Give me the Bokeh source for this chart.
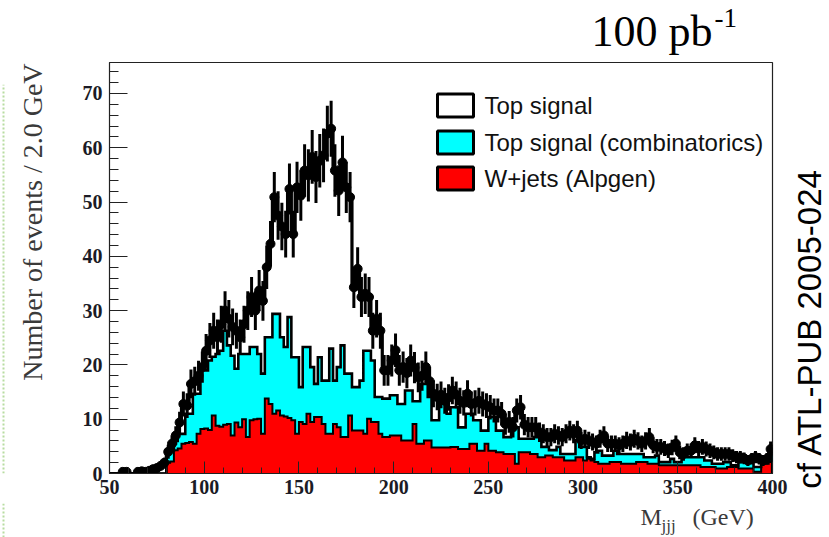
import numpy as np
from math import pi
from bokeh.plotting import figure
from bokeh.models import FixedTicker
from bokeh.layouts import row, column
from bokeh.core.properties import value
from bokeh.embed import file_html
from bokeh.resources import INLINE

# ---------------- data (2 GeV bins from 50 to 400 GeV) ----------------
bin_start = 50.0
bin_width = 2.0

# W+jets (Alpgen) per bin
wjets = [
    0, 0, 0, 0, 0, 0, 0, 0, 0, 0,
    0, 0, 0, 0, 0, 2.0, 2.2, 4.3, 4.6, 5.5,
    5.6, 5.8, 5.5, 7.3, 8.2, 8.3, 8.0, 10.7, 8.8, 8.6,
    9.0, 9.1, 7.0, 9.4, 8.5, 10.0, 6.7, 9.8, 10.0, 10.1,
    7.3, 13.8, 12.8, 11.0, 11.6, 10.7, 10.5, 10.2, 9.8, 7.3,
    9.5, 9.1, 11.0, 9.5, 10.4, 10.4, 9.1, 7.3, 7.3, 9.1,
    8.5, 6.7, 6.7, 10.7, 7.9, 7.9, 7.9, 7.3, 10.1, 9.5,
    9.5, 7.3, 6.7, 6.7, 7.0, 7.0, 7.0, 6.1, 6.1, 6.1,
    9.1, 5.5, 5.5, 6.1, 6.1, 4.8, 4.8, 4.8, 4.8, 4.8,
    4.9, 4.9, 4.5, 4.5, 4.5, 5.5, 5.5, 4.2, 4.2, 5.5,
    4.2, 4.2, 3.9, 3.9, 3.6, 3.6, 3.6, 1.8, 3.9, 3.9,
    3.9, 3.6, 3.6, 3.0, 3.0, 3.3, 3.3, 3.0, 3.0, 3.0,
    2.4, 2.4, 2.4, 3.0, 3.0, 2.4, 2.7, 2.4, 2.1, 1.8,
    1.8, 1.8, 2.1, 2.1, 2.1, 1.8, 1.8, 1.8, 1.8, 2.1,
    2.1, 2.1, 1.8, 1.8, 1.8, 1.5, 1.5, 1.5, 1.5, 1.5,
    1.5, 1.5, 1.5, 1.5, 1.5, 1.5, 1.2, 1.2, 1.2, 1.2,
    0.9, 0.9, 0.9, 1.2, 1.2, 1.2, 0.9, 0.9, 0.9, 0.9,
    0.3, 0.3, 1.8, 1.8, 2.1,
]

# Top signal (combinatorics) per bin
combinatorics = [
    0, 0, 0, 0, 0, 0, 0, 0, 0, 0,
    0, 0, 0, 0, 0, 1.9, 2.0, 1.7, 2.7, 1.8,
    5.4, 5.2, 9.2, 7.4, 10.8, 10.7, 12.8, 10.8, 13.2, 14.0,
    17.3, 14.5, 14.7, 9.9, 13.5, 12.0, 15.3, 13.5, 13.3, 11.9,
    11.1, 11.3, 12.3, 18.4, 17.8, 14.4, 12.8, 18.6, 11.6, 14.1,
    6.4, 14.2, 12.3, 10.1, 6.1, 11.0, 8.0, 9.8, 15.7, 8.0,
    11.1, 16.9, 11.7, 7.7, 8.0, 8.0, 9.2, 15.3, 12.5, 11.3,
    4.6, 6.8, 7.1, 7.1, 7.4, 7.4, 5.8, 6.7, 9.2, 9.2,
    4.2, 7.8, 11.0, 10.4, 8.0, 5.0, 5.0, 8.5, 8.5, 6.2,
    7.3, 7.3, 4.0, 4.0, 6.5, 5.5, 4.3, 5.6, 3.7, 2.4,
    6.2, 6.2, 4.0, 4.0, 3.1, 3.1, 4.9, 6.7, 2.5, 2.5,
    2.5, 2.8, 3.1, 3.7, 1.9, 1.6, 1.0, 1.3, 1.9, 0.6,
    1.2, 1.2, 1.2, 3.1, 1.9, 2.5, 0.3, 0.3, 1.8, 2.4,
    1.5, 1.5, 1.2, 2.1, 1.5, 1.8, 1.8, 1.8, 1.8, 1.5,
    1.5, 0.9, 1.2, 1.2, 1.5, 0.6, 0.6, 0.6, 1.2, 0.6,
    0.6, 1.5, 1.5, 1.5, 1.5, 1.5, 1.8, 1.2, 1.2, 0.6,
    0.9, 0.9, 1.2, 0.9, 0.3, 0.3, 1.2, 1.2, 1.5, 1.5,
    0.9, 0.9, 0.9, 0.9, 1.2,
]

# Top signal (correct combinations) per bin
top_signal = [
    0, 0, 0, 0, 0, 0, 0, 0, 0, 0,
    0.2, 0.4, 0.7, 1.2, 1.8, 0.1, 1.3, 1.0, 2.1, 5.5,
    1.5, 5.5, 2.3, 3.3, 0.6, 3.6, 3.7, 4.8, 3.1, 4.9,
    3.7, 4.9, 5.3, 7.0, 3.1, 5.5, 8.0, 9.2, 6.7, 11.7,
    13.4, 12.9, 17.2, 21.5, 18.1, 20.4, 20.8, 23.6, 22.7, 31.3,
    35.3, 32.5, 31.6, 38.7, 38.1, 36.2, 41.5, 45.5, 40.5, 38.7,
    32.5, 33.7, 34.3, 32.5, 18.4, 21.8, 15.4, 10.5, 9.9, 5.5,
    14.4, 12.2, 5.2, 5.2, 6.4, 8.3, 6.2, 6.8, 3.2, 5.5,
    6.2, 4.4, 1.5, 3.1, 2.9, 4.9, 4.3, 1.2, 0.1, 3.0,
    3.1, 2.3, 4.9, 4.5, 3.7, 1.8, 3.2, 3.6, 4.9, 4.6,
    1.8, 1.2, 3.7, 3.1, 2.4, 2.8, 0.3, 3.1, 5.8, 2.6,
    2.1, 2.1, 1.8, 0.9, 2.4, 1.8, 2.4, 3.0, 2.1, 3.1,
    3.7, 4.3, 3.7, 1.8, 1.2, 1.5, 3.1, 3.1, 1.6, 2.2,
    3.7, 2.2, 2.2, 1.3, 1.6, 1.9, 2.5, 2.2, 2.8, 2.4,
    1.9, 3.0, 3.7, 2.2, 1.6, 2.8, 2.5, 2.1, 2.1, 3.4,
    1.8, 0.6, 1.2, 1.2, 2.2, 1.6, 1.9, 2.1, 1.8, 2.1,
    1.8, 1.8, 1.5, 1.5, 1.8, 1.5, 0.9, 0.7, 0.2, 0.3,
    1.8, 1.5, 0.2, 0.2, 1.2,
]

# pseudo-data points (events per bin)
data_events = [
    0, 0, 0, 0.3, 0.3, 0, 0, 0.3, 0.4, 0.3,
    0.5, 0.8, 1.0, 1.4, 2.0, 4.0, 5.5, 7.0, 9.4, 12.8,
    12.5, 16.5, 17.0, 18.0, 19.6, 22.6, 24.5, 26.3, 25.1, 27.5,
    30.0, 28.5, 27.0, 26.3, 25.1, 27.5, 30.0, 32.5, 30.0, 33.7,
    31.8, 38.0, 42.3, 50.9, 47.5, 45.5, 44.1, 52.4, 44.1, 52.7,
    51.2, 55.8, 54.9, 58.3, 54.6, 57.6, 58.6, 62.6, 63.5, 55.8,
    52.1, 57.3, 52.7, 50.9, 34.3, 37.7, 32.5, 33.1, 32.5, 26.3,
    28.5, 26.3, 19.0, 19.0, 20.8, 22.7, 19.0, 19.6, 18.5, 20.8,
    19.5, 17.7, 18.0, 19.6, 17.0, 14.7, 14.1, 14.5, 13.4, 14.0,
    15.3, 14.5, 13.4, 13.0, 14.7, 12.8, 13.0, 13.4, 12.8, 12.5,
    12.2, 11.6, 11.6, 11.0, 9.1, 9.5, 8.5, 11.6, 12.2, 9.0,
    8.5, 8.5, 8.5, 7.6, 7.3, 6.7, 6.7, 7.3, 7.0, 6.7,
    7.3, 7.9, 7.3, 7.9, 6.1, 6.4, 6.1, 5.8, 5.5, 6.4,
    7.0, 5.5, 5.5, 5.5, 5.2, 5.5, 6.1, 5.8, 6.4, 6.0,
    5.5, 6.0, 6.7, 5.2, 4.9, 4.9, 4.6, 4.2, 4.8, 5.5,
    3.9, 3.6, 4.2, 4.2, 5.2, 4.6, 4.9, 4.5, 4.2, 3.9,
    3.6, 3.6, 3.6, 3.6, 3.3, 3.0, 3.0, 2.8, 2.4, 2.7,
    3.0, 2.7, 2.4, 2.7, 4.5,
]
event_weight = 0.42  # MC weight -> stat. error = sqrt(N * w)

x_ticks = [50, 100, 150, 200, 250, 300, 350, 400]
y_ticks = [0, 10, 20, 30, 40, 50, 60, 70]
legend_labels = ["Top signal", "Top signal (combinatorics)", "W+jets (Alpgen)"]
legend_colors = ["white", "#00ffff", "#ff0000"]

# ---------------- page geometry (px) ----------------
W, H = 829, 537
RIGHT_W = 41                 # right strip (reference note)
LEFT_W = 50                  # left strip (y title)
TOP_H = 60                   # top strip (luminosity)
BOT_H = 34                   # bottom strip (x title)
FL, FR, FT, FB = 109, 772, 62, 473   # frame edges on the page
X0, X1, Y0, Y1 = 50.0, 400.0, 0.0, 75.7
MAIN_W = W - RIGHT_W - LEFT_W
MAIN_H = H - TOP_H - BOT_H
SERIF_MID = 0.3375           # baseline -> middle offset (em) of Liberation Serif


def dx(sx):
    return X0 + (sx - FL) * (X1 - X0) / (FR - FL)


def dy(sy):
    return Y0 + (FB - sy) * (Y1 - Y0) / (FB - FT)


def strip(w, h):
    f = figure(width=w, height=h, x_range=(0, w), y_range=(0, h),
               output_backend="svg", toolbar_location=None, title=None,
               x_axis_location=None, y_axis_location=None, min_border=0)
    f.outline_line_color = None
    f.xgrid.visible = False
    f.ygrid.visible = False
    f.background_fill_color = "white"
    f.border_fill_color = "white"
    return f


def put_text(f, x, y, txt, font, size, color="black", angle=0.0,
             align="left", baseline="middle"):
    f.text(x=[x], y=[y], text=[txt], angle=angle,
           text_font=value(font), text_font_size=value(f"{size}px"),
           text_color=color, text_align=align, text_baseline=baseline)


def serif_on_baseline(f, x, page_base, strip_bottom, txt, size, **kw):
    mid = page_base - SERIF_MID * size
    put_text(f, x, strip_bottom - mid, txt, "Liberation Serif", size, **kw)


# ---------------- derived stack arrays ----------------
r = np.array(wjets, float)
c = np.array(combinatorics, float)
s = np.array(top_signal, float)
d = np.array(data_events, float)
n = len(r)
edges = bin_start + bin_width * np.arange(n + 1)
centers = 0.5 * (edges[:-1] + edges[1:])

lvl_red = r
lvl_cyan = r + c
lvl_tot = r + c + s

xs = np.repeat(edges, 2)[1:-1]


def st(v):
    return np.repeat(v, 2)


def outline(v):
    return (np.concatenate([[edges[0]], xs, [edges[-1]]]),
            np.concatenate([[0.0], st(v), [0.0]]))


# ---------------- main plot ----------------
p = figure(width=MAIN_W, height=MAIN_H, x_range=(X0, X1), y_range=(Y0, Y1),
           output_backend="svg", toolbar_location=None, title=None,
           min_border_left=FL - LEFT_W, min_border_right=MAIN_W - (FR - LEFT_W),
           min_border_top=FT - TOP_H, min_border_bottom=MAIN_H - (FB - TOP_H))
p.background_fill_color = "white"
p.border_fill_color = "white"
p.outline_line_color = "#222222"
p.outline_line_width = 1.2
p.xgrid.visible = False
p.ygrid.visible = False

# fills
p.varea(x=xs, y1=st(lvl_red), y2=st(lvl_cyan), fill_color="#00ffff")
p.varea(x=xs, y1=np.zeros(2 * n), y2=st(lvl_red), fill_color="#ff0000")

# outlines
ox, oy = outline(lvl_tot)
p.line(ox, oy, line_color="black", line_width=3.2, line_join="miter")
ox, oy = outline(lvl_cyan)
p.line(ox, oy, line_color="black", line_width=2.6, line_join="miter")
ox, oy = outline(lvl_red)
p.line(ox, oy, line_color="black", line_width=2.0, line_join="miter")

# data with error bars
m = d > 0
err = np.sqrt(d * event_weight)
p.segment(x0=centers[m], y0=(d - err)[m], x1=centers[m], y1=(d + err)[m],
          line_color="black", line_width=3)
p.scatter(centers[m], d[m], size=9, marker="circle",
          fill_color="black", line_color="black")

# axes
p.xaxis.ticker = FixedTicker(ticks=x_ticks, minor_ticks=list(range(50, 401, 10)))
p.yaxis.ticker = FixedTicker(ticks=y_ticks, minor_ticks=list(range(0, 76, 2)))
for ax in (p.xaxis[0], p.yaxis[0]):
    ax.axis_line_color = "#222222"
    ax.major_tick_out = 0
    ax.minor_tick_out = 0
    ax.major_tick_line_color = "#222222"
    ax.minor_tick_line_color = "#222222"
    ax.major_label_text_font = "Liberation Serif"
    ax.major_label_text_font_style = "bold"
    ax.major_label_text_font_size = "20px"
    ax.major_label_text_color = "#1b1b25"
p.xaxis.major_tick_in = 12
p.xaxis.minor_tick_in = 6
p.yaxis.major_tick_in = 18
p.yaxis.minor_tick_in = 9
p.xaxis.major_label_standoff = 6
p.yaxis.major_label_standoff = 7

# legend (ROOT style, drawn by hand inside the frame)
row_y = [105, 142, 178]
for lab, col, yy in zip(legend_labels, legend_colors, row_y):
    p.quad(left=[dx(437)], right=[dx(473)], top=[dy(yy - 11.5)],
           bottom=[dy(yy + 11.5)], fill_color=col, line_color="black",
           line_width=3)
    put_text(p, dx(484), dy(yy), lab, "Liberation Sans", 24, color="#111111")

# ---------------- strips holding the outer texts ----------------
# top strip: page y 0..TOP_H
top = strip(MAIN_W + LEFT_W, TOP_H)
serif_on_baseline(top, 712, 46, TOP_H, "100 pb", 44, align="right")
serif_on_baseline(top, 714, 27, TOP_H, "-1", 27)

# left strip: page y TOP_H..TOP_H+MAIN_H
left_bottom = TOP_H + MAIN_H
left = strip(LEFT_W, MAIN_H)
put_text(left, 32, left_bottom - 232, "Number of events / 2.0 GeV",
         "Liberation Serif", 28, color="#3a3a3a", angle=pi / 2, align="center")
left.line(x=[3, 3], y=[0, left_bottom - 84], line_color="#b7dca0",
          line_width=2, line_dash="2 2")

# bottom strip: page y H-BOT_H..H
bottom = strip(MAIN_W + LEFT_W, BOT_H)
serif_on_baseline(bottom, 640, 525, H, "M", 24, color="#3a3a3a")
serif_on_baseline(bottom, 661, 531, H, "jjj", 17, color="#3a3a3a")
serif_on_baseline(bottom, 692, 525, H, "(GeV)", 24, color="#3a3a3a")
bottom.line(x=[3, 3], y=[0, BOT_H], line_color="#b7dca0", line_width=2,
            line_dash="2 2")

# right strip: page x W-RIGHT_W..W, full height
right = strip(RIGHT_W, H)
put_text(right, RIGHT_W / 2, H - 328, "cf ATL-PUB 2005-024",
         "Liberation Sans", 33, angle=pi / 2, align="center")

layout = row(column(top, row(left, p), bottom), right)
open("out.html", "w").write(file_html(layout, INLINE))
